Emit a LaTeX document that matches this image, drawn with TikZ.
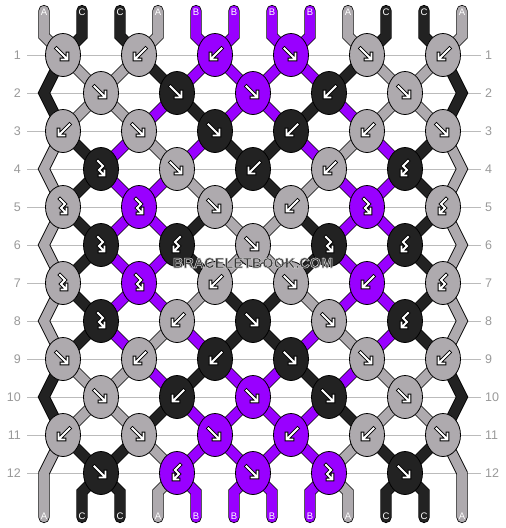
\documentclass[tikz,border=0pt]{standalone}
\usepackage{fontspec}
\setmainfont{Liberation Sans}
\usetikzlibrary{shapes.geometric}
\definecolor{cA}{HTML}{AEAAAE}
\definecolor{cB}{HTML}{9900FF}
\definecolor{cC}{HTML}{222222}
\definecolor{rowgray}{HTML}{BBBBBB}
\definecolor{numgray}{HTML}{999999}
\definecolor{wmgray}{HTML}{383838}
\pgfdeclarelayer{gridlayer}
\pgfdeclarelayer{threadlayer}
\pgfsetlayers{gridlayer,threadlayer,main}

\newcommand\glyph[2]{%
  \draw[black,line width=3.6pt,line cap=rect,line join=miter] #1 #2;
  \draw[white,line width=1.8pt,line cap=rect,line join=miter] #1 #2;}
\newcommand\glyphF{\glyph{(-6.5,-6.5)--(3.5,3.5)}{(4.5,-1.5)--(4.5,4.5)--(-1.5,4.5)}}
\newcommand\glyphB{\glyph{(6.5,-6.5)--(-3.5,3.5)}{(-4.5,-1.5)--(-4.5,4.5)--(1.5,4.5)}}
\newcommand\glyphFB{\glyph{(-3,-8)--(2,-3)--(-2,1)--(2.5,5.5)}{(3.5,1.5)--(3.5,6.5)--(-1.5,6.5)}}
\newcommand\glyphBF{\glyph{(3,-8)--(-2,-3)--(2,1)--(-2.5,5.5)}{(-3.5,1.5)--(-3.5,6.5)--(1.5,6.5)}}
\newcommand\haloed[1]{\special{pdf:literal direct 0.8 0.8 0.8 RG 0.55 w 2 Tr}#1\special{pdf:literal direct 0 Tr}}

\begin{document}
\begin{tikzpicture}[x=1pt,y=-1pt,
  knot/.style={ellipse,draw=black,line width=0.8pt,fill=#1,minimum width=35pt,minimum height=43pt,inner sep=0pt},
  thread/.style={draw=black,line width=0.8pt,double=#1,double distance=9.6pt,line join=miter},
  endthread/.style={thread=#1,line cap=round},
  rowline/.style={draw=rowgray,line width=1pt},
  rownum/.style={text=numgray,font=\fontsize{12.5}{13}\selectfont,inner sep=0pt},
  strlabel/.style={text=white,font=\fontsize{9.5}{10}\selectfont,inner sep=0pt},
  wm/.style={font=\bfseries\fontsize{14.5}{15}\selectfont,inner sep=1pt}]
\useasboundingbox (0,0) rectangle (506,528);
\begin{pgfonlayer}{gridlayer}
  \fill[white] (0,0) rectangle (506,528);
\end{pgfonlayer}

% row numbers and guide lines
\foreach \r in {1,...,12}{
  \pgfmathsetmacro\ky{55+38*(\r-1)}
  \node[rownum,anchor=east] (rl-\r) at (21,\ky) {\r};
  \node[rownum,anchor=west] (rr-\r) at (485,\ky) {\r};
  \begin{pgfonlayer}{gridlayer}
    \draw[rowline,shorten <=6pt,shorten >=4pt] (rl-\r.east) -- (rr-\r.west);
  \end{pgfonlayer}
}

% knots
\foreach \r/\ks in {
 1/{F/A,B/A,B/B,F/B,F/A,B/A},
 2/{F/A,F/C,F/B,B/C,F/A},
 3/{B/A,F/A,F/C,B/C,B/A,F/A},
 4/{FB/C,F/A,B/C,B/A,BF/C},
 5/{FB/A,FB/B,F/A,B/A,FB/B,BF/A},
 6/{FB/C,BF/C,F/A,FB/C,BF/C},
 7/{FB/A,FB/B,B/A,F/A,B/B,BF/A},
 8/{FB/C,B/A,F/C,F/A,BF/C},
 9/{F/A,B/A,B/C,F/C,F/A,B/A},
 10/{F/A,B/C,F/B,F/C,F/A},
 11/{B/A,F/A,F/B,B/B,B/A,F/A},
 12/{F/C,BF/B,F/B,FB/B,F/C}}{
  \foreach \t/\c [count=\i] in \ks {
    \pgfmathsetmacro\kx{63+38*(1-mod(\r,2))+76*(\i-1)}
    \pgfmathsetmacro\ky{55+38*(\r-1)}
    \node[knot=c\c] (k-\r-\i) at (\kx,\ky) {};
    \begin{scope}[shift={(k-\r-\i.center)}]\csname glyph\t\endcsname\end{scope}
  }
}

% edge turning points
\foreach \r in {2,4,6,8,10}{
  \pgfmathsetmacro\ky{55+38*(\r-1)}
  \coordinate (el-\r) at (44,\ky);
  \coordinate (er-\r) at (462,\ky);
}

\begin{pgfonlayer}{threadlayer}
% threads between knots
\foreach \r/\cols in {
  1/{A,A,C,B,B,B,B,C,A,A},
  2/{A,A,B,C,B,B,C,B,A,A},
  3/{C,B,A,B,C,C,B,A,B,C},
  4/{C,B,B,A,C,C,A,B,B,C},
  5/{C,B,B,C,A,A,C,B,B,C},
  6/{C,B,B,C,A,A,C,B,B,C},
  7/{C,B,B,A,C,C,A,B,B,C},
  8/{C,B,A,B,C,C,B,A,B,C},
  9/{A,A,B,C,B,B,C,B,A,A},
  10/{A,A,C,B,B,B,B,C,A,A},
  11/{C,C,A,B,B,B,B,A,C,C}}{
  \foreach \c [count=\j] in \cols {
    \pgfmathtruncatemacro\p{\j+1}
    \pgfmathtruncatemacro\lo{floor(\p/2)}
    \pgfmathtruncatemacro\hi{ceil(\p/2)}
    \pgfmathtruncatemacro\rn{\r+1}
    \pgfmathtruncatemacro\a{isodd(\r) ? \hi : \lo}
    \pgfmathtruncatemacro\b{isodd(\r) ? \lo : \hi}
    \draw[thread=c\c] (k-\r-\a.center) -- (k-\rn-\b.center);
  }
}
% edge threads
\foreach \r/\cl/\cr in {1/C/C,3/A/A,5/A/A,7/A/A,9/C/C}{
  \pgfmathtruncatemacro\rn{\r+1}
  \pgfmathtruncatemacro\rr{\r+2}
  \draw[thread=c\cl] (k-\r-1.center) -- (el-\rn) -- (k-\rr-1.center);
  \draw[thread=c\cr] (k-\r-6.center) -- (er-\rn) -- (k-\rr-6.center);
}
% top strings
\foreach \c [count=\p] in {A,C,C,A,B,B,B,B,A,C,C,A}{
  \pgfmathsetmacro\sx{44+38*(\p-1)}
  \pgfmathtruncatemacro\hi{ceil(\p/2)}
  \coordinate (top-\p) at (\sx,10.5);
  \draw[endthread=c\c] (top-\p) -- ++(0,25.5) -- (k-1-\hi.center);
}
% bottom strings
\foreach \c [count=\p] in {A,C,C,A,B,B,B,B,A,C,C,A}{
  \pgfmathsetmacro\sx{44+38*(\p-1)}
  \pgfmathtruncatemacro\hi{ceil(\p/2)}
  \pgfmathtruncatemacro\lo{floor(\p/2)}
  \pgfmathtruncatemacro\edge{(\p==1)||(\p==12)}
  \coordinate (bot-\p) at (\sx,517.5);
  \ifnum\edge=1
    \draw[endthread=c\c] (bot-\p) -- ++(0,-44.5) -- (k-11-\hi.center);
  \else
    \draw[endthread=c\c] (bot-\p) -- ++(0,-25.5) -- (k-12-\lo.center);
  \fi
}
\end{pgfonlayer}

% string labels
\foreach \c [count=\p] in {A,C,C,A,B,B,B,B,A,C,C,A}{
  \pgfmathsetmacro\sx{44+38*(\p-1)}
  \node[strlabel] (tl-\p) at (\sx,12.5) {\c};
  \node[strlabel] (bl-\p) at (\sx,516) {\c};
}

% watermark
\node[wm,text=wmgray] (wm) at (253,263) {\haloed{BRACELETBOOK.COM}};
\end{tikzpicture}
\end{document}
